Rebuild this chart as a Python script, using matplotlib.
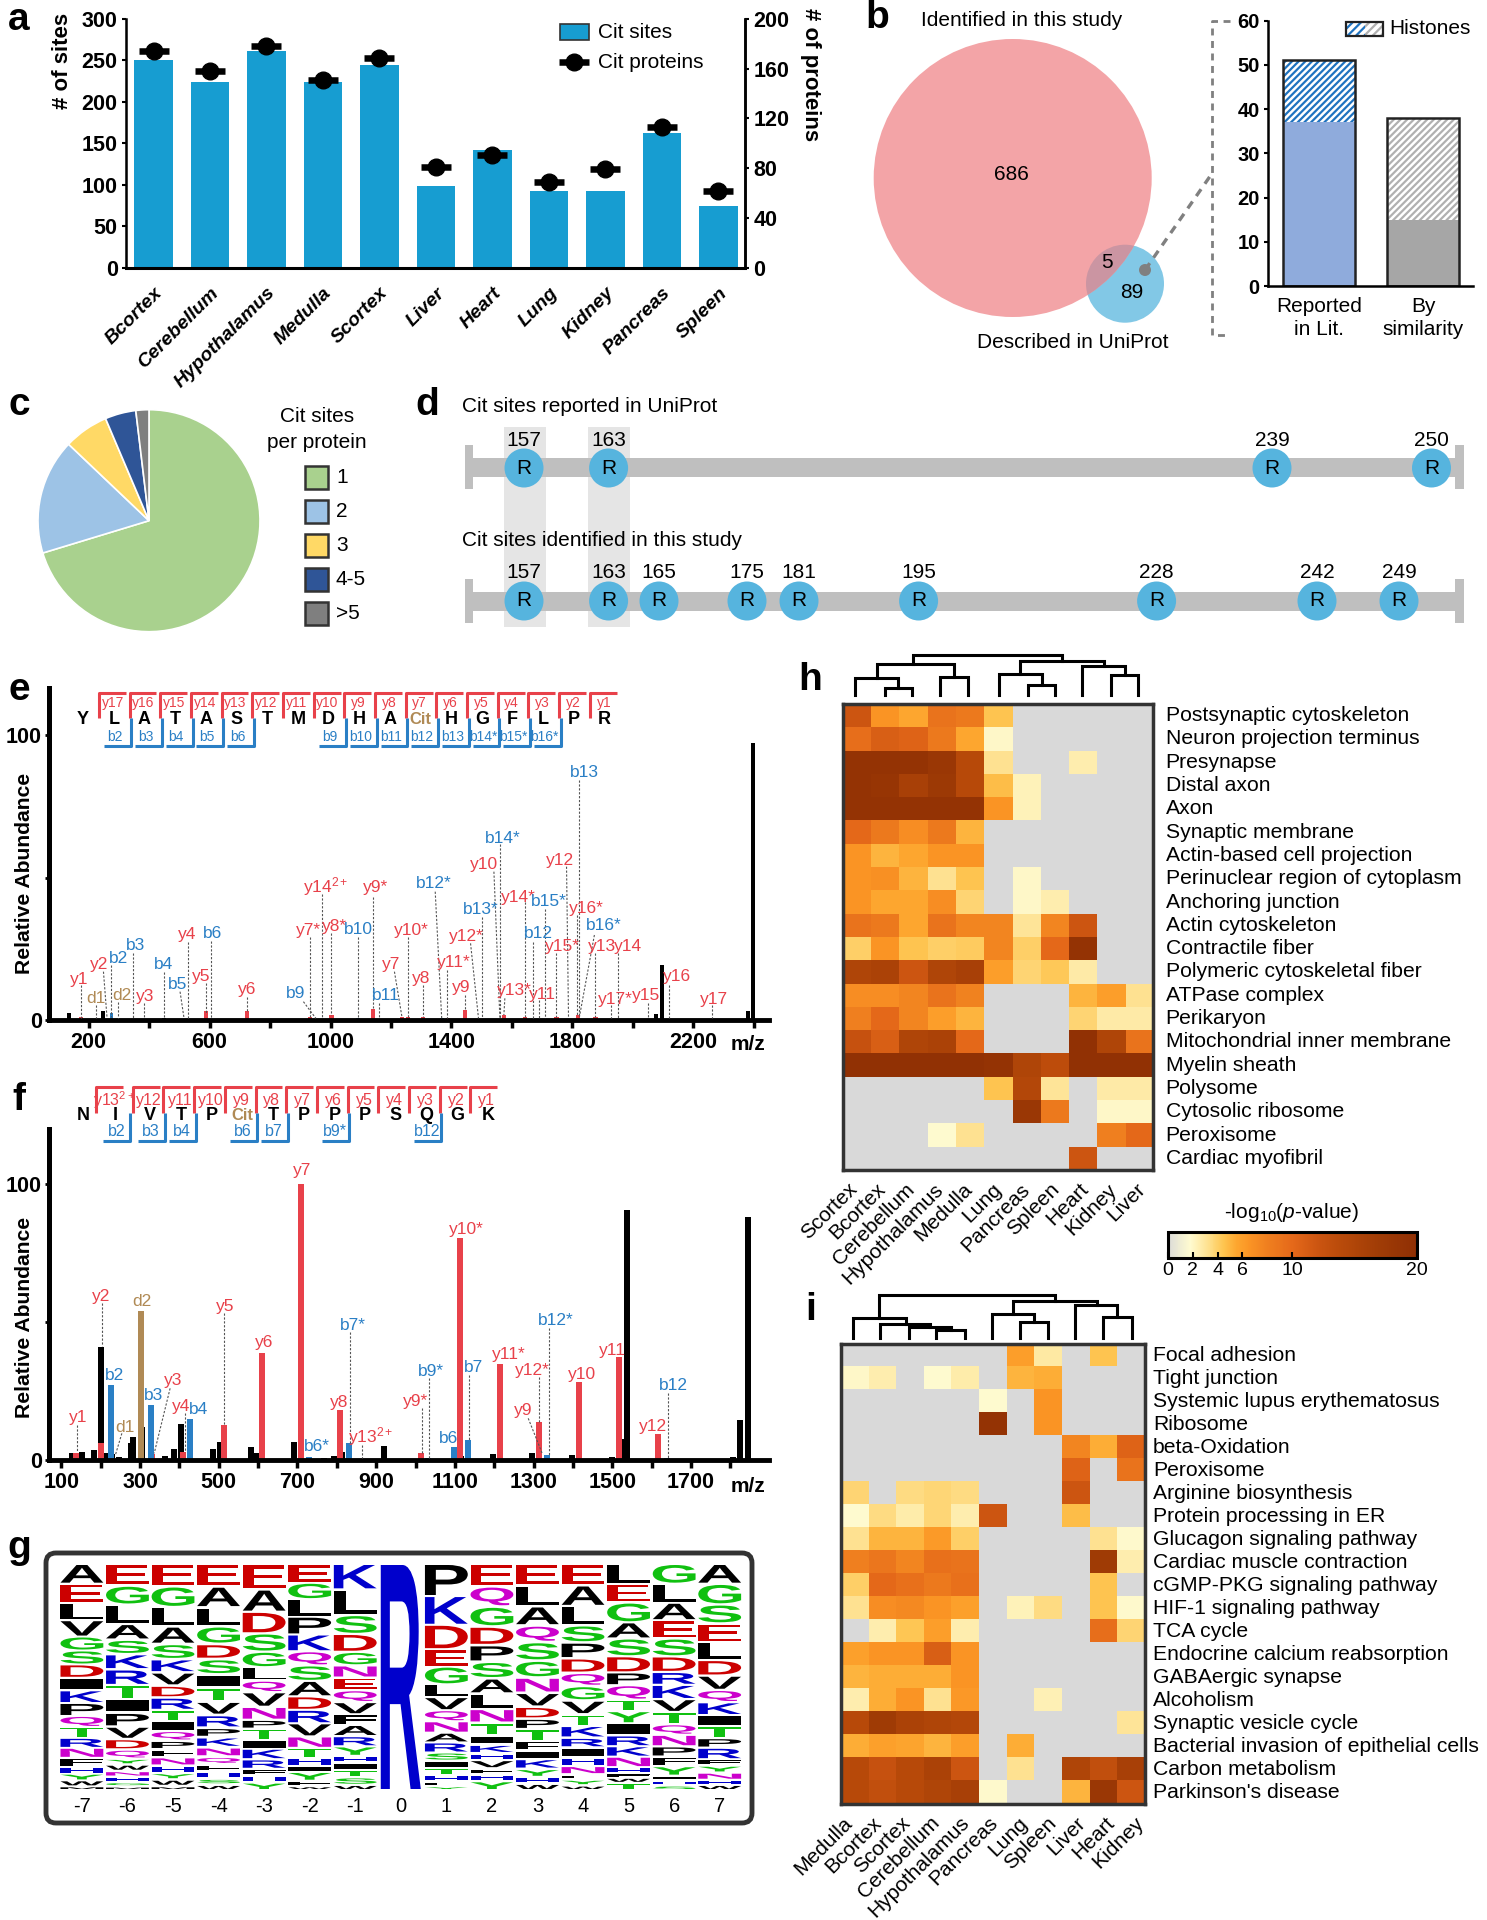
# ================================================================
# 0. Section: IMPORTS
# ================================================================
import numpy as np

from matplotlib import pyplot as plt
from matplotlib.colors import LinearSegmentedColormap
from matplotlib.font_manager import FontProperties
from matplotlib.patches import Circle, FancyBboxPatch, PathPatch, Rectangle
from matplotlib.textpath import TextPath
from matplotlib.transforms import Affine2D


# ================================================================
# 1. Section: DATA
# ================================================================
W, H = 1487, 1920
N = np.nan

RED, BLUE, BROWN = "#e8414a", "#2a7fc5", "#b08a55"

# panel a
TISSUES_A = ["Bcortex", "Cerebellum", "Hypothalamus", "Medulla", "Scortex", "Liver",
             "Heart", "Lung", "Kidney", "Pancreas", "Spleen"]
CIT_SITES = [251, 224, 262, 224, 244, 99, 142, 92, 92, 163, 75]
CIT_PROTEINS = [174, 158, 178, 151, 169, 81, 91, 69, 79, 113, 62]

# panel b
BAR_B_LABELS = ["Reported\nin Lit.", "By\nsimilarity"]
NON_HISTONE = [37, 15]
HISTONE = [14, 23]

# panel c
PIE_LABELS = ["1", "2", "3", "4-5", ">5"]
PIE_SHARE = [70.3, 16.8, 6.5, 4.5, 1.9]
PIE_COLORS = ["#a9d18e", "#9dc3e6", "#ffd966", "#2f5597", "#7f7f7f"]

# panel d
SITES_TOP = ["157", "163", "239", "250"]
SITES_TOP_X = [524, 608.6, 1272, 1431.5]
SITES_BOTTOM = ["157", "163", "165", "175", "181", "195", "228", "242", "249"]
SITES_BOTTOM_X = [524, 608.6, 659, 747, 799, 918.6, 1156.6, 1317, 1399]

# panel e spectrum
E_BLACK_MZ = [136, 248, 450, 500, 550, 2076, 2095, 2380, 2397]
E_BLACK_H = [2.5, 3, 0.6, 0.5, 0.5, 2, 19.3, 3, 97.3]
E_RED_MZ = [175, 384, 588, 725, 932, 1003, 1141, 1237, 1257, 1306, 1388, 1444, 1490, 1574, 1643, 1747, 1818, 1876]
E_RED_H = [1, 0.5, 3, 3.3, 1, 1.8, 4, 1.2, 1.2, 1, 0.8, 3.5, 0.5, 1.7, 1, 1, 1.8, 1]
E_BLUE_MZ = [276, 952, 1090, 1161, 1369, 1504, 1660, 1700]
E_BLUE_H = [2.3, 0.5, 0.8, 0.5, 0.7, 0.5, 0.5, 0.5]

E_LETTERS = list("YLATASTMDHA") + ["Cit"] + list("HGFLPR")
E_Y_IONS = ["y17", "y16", "y15", "y14", "y13", "y12", "y11", "y10", "y9", "y8", "y7",
            "y6", "y5", "y4", "y3", "y2", "y1"]
E_B_IONS = {1: "b2", 2: "b3", 3: "b4", 4: "b5", 5: "b6", 8: "b9", 9: "b10", 10: "b11", 11: "b12",
            12: "b13", 13: "b14*", 14: "b15*", 15: "b16*"}

# label, colour, text x/y and leader line in crop units
E_LABELS = [
    ("y1", RED, 160, 928, 163, 945, 163, 1045), ("d1", BROWN, 193, 985, 193, 1005, 193, 1045),
    ("y2", RED, 200, 885, 208, 905, 215, 1040), ("b2", BLUE, 238, 865, 224, 885, 224, 1040),
    ("d2", BROWN, 245, 975, 238, 995, 238, 1045), ("b3", BLUE, 272, 828, 267, 850, 267, 1045),
    ("y3", RED, 292, 978, 290, 1000, 290, 1045), ("b4", BLUE, 328, 883, 330, 905, 330, 1045),
    ("b5", BLUE, 357, 943, 362, 965, 370, 1045), ("y5", RED, 404, 918, 414, 940, 414, 1030),
    ("y4", RED, 377, 795, 378, 815, 378, 1045), ("b6", BLUE, 428, 790, 424, 812, 424, 1045),
    ("y6", RED, 496, 958, 497, 980, 497, 1025), ("b9", BLUE, 595, 972, 610, 995, 635, 1045),
    ("y7*", RED, 620, 780, 623, 800, 623, 1040), ("y14$^{2+}$", RED, 655, 650, 648, 672, 648, 1045),
    ("y8*", RED, 673, 770, 666, 790, 666, 1035), ("b10", BLUE, 721, 778, 719, 800, 719, 1045),
    ("y9*", RED, 755, 652, 750, 680, 750, 1015), ("b11", BLUE, 776, 978, 762, 1000, 762, 1045),
    ("y7", RED, 786, 882, 793, 905, 808, 1040), ("y10*", RED, 827, 782, 820, 800, 820, 1040),
    ("y8", RED, 847, 925, 850, 945, 850, 1040), ("b12*", BLUE, 873, 640, 875, 665, 888, 1045),
    ("y11*", RED, 912, 878, 899, 900, 899, 1045), ("y9", RED, 927, 952, 934, 975, 934, 1020),
    ("y12*", RED, 937, 798, 946, 820, 962, 1045), ("b13*", BLUE, 967, 718, 970, 740, 970, 1045),
    ("y10", RED, 973, 585, 993, 605, 1005, 1045), ("b14*", BLUE, 1010, 505, 1005, 522, 1005, 1045),
    ("y13*", RED, 1035, 960, 1015, 985, 1013, 1035), ("y14*", RED, 1042, 682, 1055, 695, 1055, 1040),
    ("y11", RED, 1090, 975, 1083, 990, 1083, 1045), ("b12", BLUE, 1083, 792, 1071, 815, 1071, 1045),
    ("b15*", BLUE, 1103, 695, 1095, 718, 1095, 1045), ("y15*", RED, 1130, 830, 1118, 850, 1118, 1040),
    ("y12", RED, 1125, 572, 1139, 590, 1143, 1045), ("y16*", RED, 1178, 715, 1161, 735, 1161, 1035),
    ("b13", BLUE, 1175, 307, 1164, 330, 1164, 1035), ("b16*", BLUE, 1213, 765, 1195, 795, 1165, 1040),
    ("y13", RED, 1210, 830, 1196, 850, 1196, 1040), ("y14", RED, 1262, 828, 1242, 850, 1242, 1045),
    ("y17*", RED, 1238, 988, 1229, 1005, 1229, 1045), ("y15", RED, 1298, 977, 1302, 1000, 1302, 1045),
    ("y16", RED, 1362, 920, 1345, 945, 1345, 1045), ("y17", RED, 1435, 988, 1431, 1005, 1431, 1045),
]

# panel f spectrum
F_BLACK_MZ = [126, 153, 182, 200, 210, 229, 246, 277, 283, 304, 364, 386, 405, 485, 502, 582, 596, 692,
              768, 793, 813, 921, 1116, 1197, 1295, 1398, 1499, 1521, 1538, 1806, 1825, 1844]
F_BLACK_H = [2.4, 3, 3.6, 41, 2.4, 2.2, 1.2, 6, 8.5, 12, 1.4, 4, 13, 4, 6.6, 4.8, 2.7, 6.6,
             0.8, 1.6, 3, 5.2, 1.6, 2, 2.7, 1.7, 1.2, 7.6, 90.5, 1.2, 14.5, 88]
F_RED_MZ = [138, 202, 330, 409, 514, 611, 708, 809, 1015, 1113, 1214, 1313, 1416, 1516, 1617]
F_RED_H = [2.4, 6.3, 2, 2.8, 12.8, 38.9, 100, 18, 2.4, 80.6, 34.7, 13.6, 28.3, 37.4, 9.4]
F_BLUE_MZ = [226, 327, 426, 730, 832, 1032, 1097, 1133, 1335, 1639]
F_BLUE_H = [27.3, 20, 15, 1.2, 6.3, 0.6, 4.8, 7.2, 1.7, 0.6]
F_BROWN_MZ = [302]
F_BROWN_H = [53.9]

F_LETTERS = list("NIVTP") + ["Cit"] + list("TPPPSQGK")
F_Y_IONS = ["y13$^{2+}$", "y12", "y11", "y10", "y9", "y8", "y7", "y6", "y5", "y4", "y3", "y2", "y1"]
F_B_IONS = {1: "b2", 2: "b3", 3: "b4", 5: "b6", 6: "b7", 8: "b9*", 11: "b12"}

F_LABELS = [
    ("y1", RED, 158, 1042, 155, 1065, 155, 1145), ("d1", BROWN, 252, 1072, 245, 1090, 232, 1155),
    ("y2", RED, 203, 678, 205, 700, 205, 829), ("b2", BLUE, 231, 915),
    ("d2", BROWN, 286, 693), ("y3", RED, 347, 930, 342, 955, 310, 1150),
    ("b3", BLUE, 309, 975), ("y4", RED, 365, 1008, 372, 1030, 372, 1145),
    ("b4", BLUE, 399, 1020), ("y5", RED, 453, 708, 451, 730, 451, 1064),
    ("y6", RED, 530, 818), ("y7", RED, 607, 300), ("b6*", BLUE, 638, 1130), ("y8", RED, 681, 998),
    ("b7*", BLUE, 710, 765, 703, 785, 703, 1118), ("y13$^{2+}$", RED, 745, 1100, 728, 1125, 728, 1165),
    ("y9*", RED, 836, 995, 848, 1015, 848, 1150), ("b9*", BLUE, 866, 903, 862, 925, 862, 1165),
    ("b6", BLUE, 901, 1105), ("y10*", RED, 938, 478), ("b7", BLUE, 952, 892, 942, 915, 942, 1110),
    ("y11*", RED, 1022, 855), ("y12*", RED, 1070, 900, 1084, 920, 1084, 1057),
    ("y9", RED, 1052, 1022, 1062, 1045, 1090, 1150), ("b12*", BLUE, 1118, 752, 1104, 775, 1104, 1156),
    ("y10", RED, 1170, 912), ("y11", RED, 1232, 842), ("y12", RED, 1313, 1070),
    ("b12", BLUE, 1354, 947, 1343, 970, 1343, 1165),
]

# panel g logo, each column top to bottom
LOGO_POSITIONS = list(range(-7, 8))
LOGO_LETTERS = [
    "AELVGSDIKPQTRNFHYWM", "EGLASKRTIPVDQYWNHGM", "EGLASKVDRTIQPFNHYWM", "EALGDSITVRPKNQFHSW",
    "EADSGLQVNPTIKRFHY", "EGLPKQSADRVNTHIYFW", "KLSDGNEQVFARYHITSW", "R",
    "PKDEGLVQNARSITHFY", "EQGDPSALNTIKHVFHY", "ELAQSGNVDPTFIKYHW", "EALSPDQGVTKRIHNFYW",
    "LEGASDPQTYIRKNHFWT", "GLAESDRKVTQNPFYIHS", "AGSELDVQKITPRFYNHW",
]
LOGO_HEIGHTS = [
    [53, 53, 45, 43, 36, 36, 34, 32, 32, 33, 27, 27, 24, 24, 22, 14, 14, 12, 6],
    [58, 50, 50, 40, 36, 38, 40, 35, 33, 34, 30, 24, 20, 10, 12, 10, 8, 6, 5],
    [60, 55, 50, 45, 38, 32, 32, 28, 30, 25, 22, 22, 18, 16, 18, 14, 12, 12, 6],
    [60, 55, 48, 45, 37, 38, 32, 33, 32, 30, 20, 22, 20, 15, 14, 12, 10, 10],
    [70, 60, 58, 48, 40, 33, 28, 37, 32, 20, 26, 20, 25, 22, 13, 14, 17],
    [50, 43, 46, 47, 44, 36, 40, 40, 34, 34, 33, 28, 24, 17, 12, 20, 10, 6],
    [70, 70, 50, 47, 34, 30, 31, 29, 30, 25, 27, 24, 22, 13, 16, 15, 16, 10],
    [680],
    [90, 80, 67, 46, 47, 32, 33, 27, 28, 23, 24, 18, 16, 16, 12, 8, 6],
    [60, 53, 52, 48, 42, 42, 38, 38, 34, 30, 20, 18, 12, 18, 10, 12, 21],
    [57, 55, 50, 42, 48, 43, 38, 34, 28, 24, 28, 20, 18, 22, 17, 12, 13],
    [57, 55, 50, 44, 40, 36, 32, 36, 34, 27, 28, 22, 22, 18, 18, 8, 10, 8],
    [53, 50, 53, 42, 47, 42, 32, 37, 28, 30, 30, 26, 25, 25, 12, 7, 9, 16],
    [53, 50, 46, 48, 47, 40, 32, 36, 32, 30, 25, 28, 24, 22, 22, 8, 8, 8],
    [53, 55, 50, 50, 46, 40, 36, 30, 32, 26, 29, 22, 28, 12, 14, 15, 8, 10],
]

# panel h heat map
TISSUES_H = ["Scortex", "Bcortex", "Cerebellum", "Hypothalamus", "Medulla", "Lung", "Pancreas",
             "Spleen", "Heart", "Kidney", "Liver"]
TERMS_H = ["Postsynaptic cytoskeleton", "Neuron projection terminus", "Presynapse", "Distal axon", "Axon",
           "Synaptic membrane", "Actin-based cell projection", "Perinuclear region of cytoplasm",
           "Anchoring junction", "Actin cytoskeleton", "Contractile fiber", "Polymeric cytoskeletal fiber",
           "ATPase complex", "Perikaryon", "Mitochondrial inner membrane", "Myelin sheath", "Polysome",
           "Cytosolic ribosome", "Peroxisome", "Cardiac myofibril"]
VALUES_H = [
    [12, 6.5, 5.5, 9, 8.5, 4.5, N, N, N, N, N],
    [9.5, 11, 10.5, 8.5, 5.5, 2, N, N, N, N, N],
    [19, 19, 19, 18, 14, 3.2, N, N, 2.5, N, N],
    [19, 18.5, 16, 17.5, 14, 4.7, 2.3, N, N, N, N],
    [19, 19, 19, 19, 19, 6.5, 2.3, N, N, N, N],
    [10, 8.5, 7, 8.5, 5, N, N, N, N, N, N],
    [6.5, 5, 5.5, 6.5, 6.5, N, N, N, N, N, N],
    [6.5, 6.8, 5, 3.2, 4.5, N, 2, N, N, N, N],
    [6.5, 5.5, 5.5, 7, 3.8, N, 2, 2.5, N, N, N],
    [9, 8.5, 5.5, 9, 7.5, 7.5, 3, 7.5, 12, N, N],
    [4, 6.5, 4.5, 4, 4.2, 7.5, 4, 10, 19, N, N],
    [15, 15.5, 12, 15, 16, 6, 3.8, 4.3, 2.7, N, N],
    [7, 7, 7.5, 9, 7.8, N, N, N, 5, 6, 3.2],
    [8, 10, 7.5, 6, 5, N, N, N, 3.8, 2.7, 2.7],
    [12.5, 11, 15, 15.5, 10, N, N, N, 19.5, 15, 9],
    [19.5, 19.5, 19.5, 19.5, 19.5, 19, 15, 13.5, 19.5, 19.5, 19.5],
    [N, N, N, N, N, 4.5, 14.5, 3, N, 2.7, 2.7],
    [N, N, N, N, N, N, 18, 8.5, N, 2, 2],
    [N, N, N, 1.8, 3.2, N, N, N, N, 8, 10],
    [N, N, N, N, N, N, N, N, 12, N, N],
]

# panel i heat map
TISSUES_I = ["Medulla", "Bcortex", "Scortex", "Cerebellum", "Hypothalamus", "Pancreas", "Lung", "Spleen",
             "Liver", "Heart", "Kidney"]
TERMS_I = ["Focal adhesion", "Tight junction", "Systemic lupus erythematosus", "Ribosome", "beta-Oxidation",
           "Peroxisome", "Arginine biosynthesis", "Protein processing in ER", "Glucagon signaling pathway",
           "Cardiac muscle contraction", "cGMP-PKG signaling pathway", "HIF-1 signaling pathway", "TCA cycle",
           "Endocrine calcium reabsorption", "GABAergic synapse", "Alcoholism", "Synaptic vesicle cycle",
           "Bacterial invasion of epithelial cells", "Carbon metabolism", "Parkinson's disease"]
VALUES_I = [
    [N, N, N, N, N, N, 6, 2.8, N, 4.5, N],
    [2, 2.5, N, 1.8, 2.6, N, 5, 5.3, N, N, N],
    [N, N, N, N, N, 1.8, N, 6.5, N, N, N],
    [N, N, N, N, N, 19, N, 6.5, N, N, N],
    [N, N, N, N, N, N, N, N, 7.5, 5.3, 10.5],
    [N, N, N, N, N, N, N, N, 10.5, N, 9],
    [3.8, N, 3.5, 3.7, 3.5, N, N, N, 12, N, N],
    [1.8, 3.5, 2.6, 3.7, 2.5, 12, N, N, 4.7, N, N],
    [3.2, 5, 5, 6.2, 4, N, N, N, N, 3.2, 1.9],
    [8, 8.8, 7.5, 9.3, 9, N, N, N, N, 17, 2.5],
    [4, 10, 9.3, 8.5, 9.3, N, N, N, N, 4.5, N],
    [3.2, 7, 7.3, 6.5, 5.8, N, 2.3, 3.5, N, 4.5, 1.9],
    [N, 2.5, 4.4, 6, 2.5, N, N, N, N, 9.5, 3.8],
    [5.8, 6.5, 6.5, 11, 6.5, N, N, N, N, N, N],
    [5, 5.3, 5.3, 5.3, 6.5, N, N, N, N, N, N],
    [2.5, 5.3, 6.5, 3.2, 6.3, N, N, 2.4, N, N, N],
    [14, 17, 15.5, 15, 14.5, N, N, N, N, N, 3],
    [5.3, 5.8, 5.6, 5, 6, N, 5.3, N, N, N, N],
    [14, 12.5, 14, 15.5, 12, N, 3.2, N, 15, 13, 16],
    [14, 13, 14, 15, 16, 1.9, N, N, 5, 18, 12],
]

# dendrogram joins in crop units: left x, right x, join y, left foot y, right foot y
DENDRO_H = [(232, 292, 97, 115, 115), (167, 262, 72, 115, 97), (355, 418, 68, 115, 115), (215, 386, 35, 72, 68),
            (549, 610, 88, 115, 115), (486, 580, 60, 115, 88), (733, 795, 62, 115, 115), (670, 765, 40, 115, 62),
            (533, 718, 28, 60, 40), (295, 625, 12, 35, 28)]
DENDRO_I = [(347, 410, 100, 120, 120), (285, 380, 92, 120, 100), (222, 332, 85, 120, 92), (162, 280, 70, 120, 85),
            (532, 595, 80, 120, 120), (470, 563, 60, 120, 80), (717, 780, 68, 120, 120), (655, 748, 38, 120, 68),
            (517, 702, 28, 60, 38), (220, 610, 12, 70, 28)]


# ================================================================
# 2. Section: FUNCTIONS
# ================================================================
def px_axes(left, top, right, bottom, **kwargs):
    return fig.add_axes([left / W, 1 - bottom / H, (right - left) / W, (bottom - top) / H], **kwargs)


def label(x, y, text, size=15, ha="center", va="center", **kwargs):
    ov.text(x, y, text, fontsize=size, ha=ha, va=va, **kwargs)


def draw_ladder(to_px, letter_xs, red_lefts, y_ions, b_ions, b_rights, red_top, mid, blue_bottom, letter_y, y_lab, b_lab, small):
    for x, letter in zip(letter_xs, E_LETTERS if len(letter_xs) == 18 else F_LETTERS):
        px, py = to_px(x, letter_y)
        if letter == "Cit":
            label(px, py, letter, 12, color=BROWN, fontweight="bold", family=NARROW)
        else:
            label(px, py, letter, 13, color="black", fontweight="bold")
    for left, ion, x in zip(red_lefts, y_ions, letter_xs[1:]):
        xs, ys = zip(*[to_px(left, mid), to_px(left, red_top), to_px(left + 54, red_top)])
        ov.plot(xs, ys, color=RED, lw=2.2, solid_capstyle="butt")
        px, py = to_px(x - 2, y_lab)
        label(px, py, ion, small, color=RED, family=NARROW)
    for i, ion in b_ions.items():
        right = b_rights[i]
        xs, ys = zip(*[to_px(right, mid), to_px(right, blue_bottom), to_px(right - 54, blue_bottom)])
        ov.plot(xs, ys, color=BLUE, lw=2.2, solid_capstyle="butt")
        px, py = to_px(letter_xs[i] + 2, b_lab)
        label(px, py, ion, small, color=BLUE, family=NARROW)


def draw_peak_labels(to_px, labels):
    for item in labels:
        px, py = to_px(item[2], item[3])
        label(px, py, item[0], 12.5, color=item[1], family=NARROW)
        if len(item) > 4:
            x0, y0 = to_px(item[4], item[5])
            x1, y1 = to_px(item[6], item[7])
            ov.plot([x0, x1], [y0, y1], color="#555555", lw=0.8, ls=(0, (2, 1.5)))


def draw_spectrum(box, xlim, ymax, groups, ticks, tick_labels):
    ax = px_axes(*box)
    for mz, height, color, width in groups:
        ax.bar(mz, height, width=width, color=color, linewidth=0)
    ax.set_xlim(*xlim)
    ax.set_ylim(0, ymax)
    for side in ["top", "right"]:
        ax.spines[side].set_visible(False)
    ax.spines["left"].set_linewidth(3.6)
    ax.spines["bottom"].set_linewidth(3.5)
    ax.set_yticks([0, 50, 100], ["0", "", "100"], fontsize=15.5, fontweight="bold", family=NARROW)
    ax.tick_params(axis="y", length=3, width=2, pad=2)
    ax.set_xticks(ticks, tick_labels, fontsize=15.5, fontweight="bold", family=NARROW)
    ax.tick_params(axis="x", length=6, width=2.5, pad=3)
    return ax


def draw_heat(box, values, tissues, terms, label_x, tick_start, tick_step):
    ax = px_axes(*box)
    im = ax.imshow(np.array(values, dtype=float), cmap=HEAT_CMAP, vmin=0, vmax=20, aspect="auto", interpolation="nearest")
    ax.set_xticks(tick_start + tick_step * np.arange(len(tissues)), tissues, rotation=45, ha="right", rotation_mode="anchor", fontsize=15)
    ax.set_yticks([])
    ax.tick_params(axis="x", length=0, pad=7)
    for spine in ax.spines.values():
        spine.set_linewidth(2.5)
        spine.set_color("#333333")
    row_h = (box[3] - box[1]) / len(terms)
    for i, term in enumerate(terms):
        label(label_x, box[1] + row_h * (i + 0.5), term, 15.2, ha="left")
    return im


def draw_dendro(to_px, joins):
    for x0, x1, y, foot0, foot1 in joins:
        pts = [to_px(x0, foot0), to_px(x0, y), to_px(x1, y), to_px(x1, foot1)]
        xs, ys = zip(*pts)
        ov.plot(xs, ys, color="black", lw=2.2, solid_joinstyle="miter")


def draw_logo(ax):
    font = FontProperties(family="Liberation Sans", weight="bold")
    colors = {}
    for letters, color in [("ALVIPFMW", "black"), ("ED", "#cc0000"), ("GSTY", "#10c010"), ("KRH", "#0000cc"), ("QN", "#cc00cc")]:
        colors.update(dict.fromkeys(letters, color))
    total = 673
    for pos, letters, heights in zip(LOGO_POSITIONS, LOGO_LETTERS, LOGO_HEIGHTS):
        gap = (total - sum(heights)) / max(len(heights) - 1, 1)
        if len(letters) == 1:
            gap, heights = 0, [total]
        top = 0
        for letter, height in zip(letters, heights):
            path = TextPath((0, 0), letter, size=1, prop=font)
            box = path.get_extents()
            width = 0.94 if len(letters) > 1 else 0.88
            xfm = Affine2D().translate(-box.x0, -box.y0).scale(width / box.width, height / box.height)
            xfm = xfm.translate(pos - width / 2, -top - height)
            ax.add_patch(PathPatch(path.transformed(xfm), facecolor=colors[letter], edgecolor="none"))
            top += height + gap


# ================================================================
# 3. Section: MAIN
# ================================================================
plt.rcParams["font.family"] = ["Liberation Sans", "DejaVu Sans"]
plt.rcParams["mathtext.fontset"] = "custom"
plt.rcParams["mathtext.rm"] = "Liberation Sans"
plt.rcParams["mathtext.it"] = "Liberation Sans:italic"
plt.rcParams["hatch.linewidth"] = 1.6
NARROW = ["Liberation Sans Narrow", "Liberation Sans"]

fig = plt.figure(figsize=(W / 100, H / 100), dpi=100)
ov = fig.add_axes([0, 0, 1, 1], zorder=5)
ov.set_xlim(0, W)
ov.set_ylim(H, 0)
ov.axis("off")
ov.patch.set_alpha(0)

for letter, x, y in [("a", 19, 20), ("b", 877, 18), ("c", 19, 405), ("d", 427, 405), ("e", 19, 690),
                     ("f", 19, 1100), ("g", 19, 1548), ("h", 810, 680), ("i", 811, 1310)]:
    label(x, y, letter, 28, fontweight="bold")

# ---- a: sites and proteins per tissue
ax_a = px_axes(126, 19, 745, 267.7)
x_a = np.arange(len(TISSUES_A))
ax_a.bar(x_a, CIT_SITES, width=0.68, color="#179dd1")
ax_a.set_xlim(-0.487, 10.47)
ax_a.set_ylim(0, 300)
ax_a.spines["top"].set_visible(False)
ax_a.spines["left"].set_linewidth(1.8)
ax_a.spines["right"].set_linewidth(1.8)
ax_a.spines["bottom"].set_linewidth(2.2)
ax_a.set_yticks(np.arange(0, 301, 50))
ax_a.set_xticks(x_a, TISSUES_A, rotation=45, ha="right", rotation_mode="anchor", fontsize=14, fontweight="bold", fontstyle="italic")
ax_a.tick_params(axis="x", length=0, pad=12)
ax_a.tick_params(axis="y", length=3, width=1.5, pad=3)
for tick in ax_a.get_yticklabels():
    tick.set(fontweight="bold", fontsize=15.5, family=NARROW)
ax_b2 = ax_a.twinx()
ax_b2.plot(x_a, CIT_PROTEINS, ls="none", marker="o", ms=12, color="black", zorder=4)
ax_b2.plot(x_a, CIT_PROTEINS, ls="none", marker="_", ms=21, mew=4.7, color="black", zorder=4)
ax_b2.set_ylim(0, 200)
ax_b2.spines["top"].set_visible(False)
ax_b2.spines["right"].set_linewidth(1.8)
ax_b2.set_yticks(np.arange(0, 201, 40))
ax_b2.tick_params(axis="y", length=3, width=1.5, pad=3)
for tick in ax_b2.get_yticklabels():
    tick.set(fontweight="bold", fontsize=15.5, family=NARROW)
label(62.5, 61, "# of sites", 16, rotation=90, fontweight="bold")
label(810, 75, "# of proteins", 16, rotation=-90, fontweight="bold")
ov.add_patch(Rectangle((560, 24), 29, 16, facecolor="#179dd1", edgecolor="#333333", lw=1.2))
ov.plot([574], [62], marker="o", ms=12, color="black")
ov.plot([574], [62], marker="_", ms=21, mew=4.7, color="black")
label(598, 32, "Cit sites", ha="left")
label(598, 62, "Cit proteins", ha="left")

# ---- b: venn and bars
label(1022, 20, "Identified in this study")
label(1073, 342, "Described in UniProt")
red_circle = Circle((1012.7, 178), 139, facecolor="#f3a4a7", edgecolor="none")
ov.add_patch(Circle((1125, 283.7), 39, facecolor="#82c8e6", edgecolor="none"))
ov.add_patch(red_circle)
overlap = Circle((1125, 283.7), 39, facecolor="#cb95a2", edgecolor="none")
ov.add_patch(overlap)
overlap.set_clip_path(red_circle)
label(1011, 175, "686")
label(1107, 263, "5")
label(1132, 292, "89")
ov.add_patch(Circle((1145, 270), 6, facecolor="#808080", edgecolor="none"))
ov.plot([1145, 1213], [270, 172], color="#808080", lw=2.4, ls=(0, (2.5, 2)))
ov.plot([1230, 1212, 1212, 1230], [21, 21, 335, 335], color="#808080", lw=2.0, ls=(0, (2.5, 2)))

ax_bars = px_axes(1268, 20.7, 1473, 286)
x_b = np.arange(2)
ax_bars.bar(x_b, NON_HISTONE, width=0.69, color=["#8fabdc", "#a6a6a6"])
ax_bars.bar(x_b, HISTONE, width=0.69, bottom=NON_HISTONE, color="white", edgecolor=["#1f73c0", "#b0b0b0"], hatch="/////", linewidth=0)
ax_bars.bar(x_b, np.add(NON_HISTONE, HISTONE), width=0.69, fill=False, edgecolor="#222222", linewidth=1.8)
ax_bars.set_xlim(-0.49, 1.48)
ax_bars.set_ylim(0, 60)
for side in ["top", "right"]:
    ax_bars.spines[side].set_visible(False)
ax_bars.spines["left"].set_linewidth(1.8)
ax_bars.spines["bottom"].set_linewidth(1.8)
ax_bars.set_yticks(np.arange(0, 61, 10))
for tick in ax_bars.get_yticklabels():
    tick.set(fontweight="bold", fontsize=14.5, family=NARROW)
ax_bars.tick_params(axis="y", length=3, width=1.5, pad=3)
ax_bars.set_xticks(x_b, BAR_B_LABELS, fontsize=15, linespacing=1.25)
ax_bars.tick_params(axis="x", length=0, pad=8)
ov.add_patch(Rectangle((1346, 22), 18.5, 14, facecolor="white", edgecolor="#1f73c0", hatch="////", lw=0))
ov.add_patch(Rectangle((1364.5, 22), 18.5, 14, facecolor="white", edgecolor="#b0b0b0", hatch="////", lw=0))
ov.add_patch(Rectangle((1346, 22), 37, 14, fill=False, edgecolor="#222222", lw=1.6))
label(1389, 29, "Histones", ha="left")

# ---- c: pie
ax_c = px_axes(38, 409.7, 260, 631.7)
ax_c.pie(PIE_SHARE, colors=PIE_COLORS, startangle=90, counterclock=False, radius=1,
         wedgeprops={"edgecolor": "white", "linewidth": 1.2})
ax_c.set_xlim(-1, 1)
ax_c.set_ylim(-1, 1)
label(316.6, 417, "Cit sites")
label(316.6, 443, "per protein")
for i, (name, color) in enumerate(zip(PIE_LABELS, PIE_COLORS)):
    y_c = 466 + i * 34
    ov.add_patch(Rectangle((305, y_c), 23, 23, facecolor=color, edgecolor="#333333", lw=1.8))
    label(336, y_c + 11.5, name, ha="left")

# ---- d: site tracks
label(462, 407, "Cit sites reported in UniProt", ha="left")
label(462, 540, "Cit sites identified in this study", ha="left")
ov.add_patch(Rectangle((504, 427), 42, 200, facecolor="#e5e5e5", edgecolor="none"))
ov.add_patch(Rectangle((588, 427), 42, 200, facecolor="#e5e5e5", edgecolor="none"))
for y_bar, y_cap, y_site, y_text, names, xs in [(458, 445, 468, 440, SITES_TOP, SITES_TOP_X),
                                                (592, 579, 601, 572, SITES_BOTTOM, SITES_BOTTOM_X)]:
    ov.add_patch(Rectangle((471, y_bar), 984, 19, facecolor="#bfbfbf", edgecolor="none"))
    ov.add_patch(Rectangle((464.5, y_cap), 8.5, 44, facecolor="#bfbfbf", edgecolor="none"))
    ov.add_patch(Rectangle((1455, y_cap), 9, 44, facecolor="#bfbfbf", edgecolor="none"))
    for name, x in zip(names, xs):
        ov.add_patch(Circle((x, y_site), 19.5, facecolor="#56b4de", edgecolor="none", zorder=3))
        label(x, y_site, "R", zorder=4)
        label(x, y_text, name)

# ---- e: spectrum
draw_spectrum((48.7, 688, 769, 1020), (68, 2450), 116.5,
              [(E_BLACK_MZ, E_BLACK_H, "black", 14), (E_RED_MZ, E_RED_H, RED, 14), (E_BLUE_MZ, E_BLUE_H, BLUE, 12)],
              np.arange(200, 2401, 200), ["200", "", "600", "", "1000", "", "1400", "", "1800", "", "2200", ""])
label(25, 873, "Relative Abundance", 15.2, rotation=90, fontweight="bold")
label(748, 1045, "m/z", 15, fontweight="bold")
e_px = lambda x, y: (x * 0.4974, 670 + y / 3)
e_letters = [167 + 61.7 * i for i in range(18)]
e_b_right = {i: e_letters[i] + 35 for i in E_B_IONS}
draw_ladder(e_px, e_letters, [x - 30 for x in e_letters[1:]], E_Y_IONS, E_B_IONS, e_b_right, 68, 145, 228, 150, 98, 200, 10)
draw_peak_labels(e_px, E_LABELS)

# ---- f: spectrum
draw_spectrum((48.7, 1129, 769, 1460), (68, 1898), 120,
              [(F_BLACK_MZ, F_BLACK_H, "black", 15), (F_RED_MZ, F_RED_H, RED, 15),
               (F_BLUE_MZ, F_BLUE_H, BLUE, 15), (F_BROWN_MZ, F_BROWN_H, BROWN, 15)],
              np.arange(100, 1801, 100),
              [str(v) if v % 200 == 100 else "" for v in np.arange(100, 1801, 100)])
label(25, 1317, "Relative Abundance", 15.2, rotation=90, fontweight="bold")
label(748, 1487, "m/z", 15, fontweight="bold")
f_px = lambda x, y: (x * 0.4974, 1070 + y / 3)
f_letters = [167, 232] + [302 + 61.7 * i for i in range(12)]
f_red = [193] + [267 + 61.7 * i for i in range(12)]
f_b_right = {i: f_letters[i] + 30 for i in F_B_IONS}
draw_ladder(f_px, f_letters, f_red, F_Y_IONS, F_B_IONS, f_b_right, 50, 130, 213, 135, 90, 183, 11.5)
draw_peak_labels(f_px, F_LABELS)

# ---- g: sequence logo
ov.add_patch(FancyBboxPatch((46, 1553), 706, 270, boxstyle="round,pad=0,rounding_size=10", facecolor="none", edgecolor="#333333", lw=3.5))
ax_g = px_axes(81.9 - 45.56 * 0.5, 1565, 719.7 + 45.56 * 0.5, 1789.3)
ax_g.set_xlim(-7.5, 7.5)
ax_g.set_ylim(-673, 0)
ax_g.axis("off")
draw_logo(ax_g)
for pos in LOGO_POSITIONS:
    label(81.9 + 45.56 * (pos + 7), 1806, str(pos), 14.5)

# ---- h: compartments heat map
HEAT_CMAP = LinearSegmentedColormap.from_list("cit_heat", [
    (0.0, "#dcdcd8"), (0.09, "#fffbd0"), (0.175, "#fedb80"), (0.225, "#fec44f"), (0.275, "#fda62f"),
    (0.325, "#fb9525"), (0.4, "#ef7f1f"), (0.5, "#e5691a"), (0.6, "#cc5511"), (0.7, "#b84a0a"),
    (0.85, "#a03c06"), (1.0, "#8f2f04")])
HEAT_CMAP.set_bad("#d9d9d9")
im_h = draw_heat((843, 704, 1153, 1170), VALUES_H, TISSUES_H, TERMS_H, 1165.5, -0.35, 1.025)
h_px = lambda x, y: (780 + x * 0.4509, 650 + y * 0.3954)
draw_dendro(h_px, DENDRO_H)

cax = px_axes(1167.8, 1232, 1416.7, 1258)
cbar = fig.colorbar(im_h, cax=cax, orientation="horizontal", ticks=[0, 2, 4, 6, 10, 20])
cbar.outline.set_linewidth(2.2)
cax.tick_params(labelsize=14, length=4, width=1.5, direction="in", pad=3)
label(1291.8, 1213, r"-log$_{10}$($\mathit{p}$-value)")

# ---- i: pathways heat map
draw_heat((841.3, 1344, 1145, 1803.5), VALUES_I, TISSUES_I, TERMS_I, 1153, -0.45, 1.055)
i_px = lambda x, y: (780 + x * 0.4509, 1290 + y * 0.4018)
draw_dendro(i_px, DENDRO_I)

fig.savefig("out.png", dpi=100, facecolor="white")
